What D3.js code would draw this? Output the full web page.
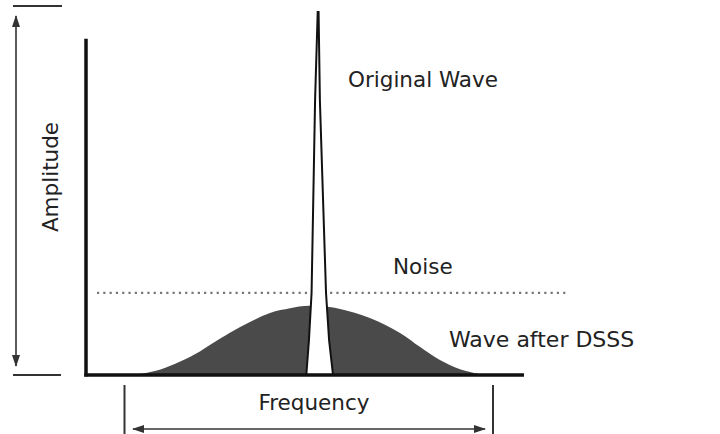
<!DOCTYPE html>
<html><head><meta charset="utf-8">
<script src="https://cdn.jsdelivr.net/npm/d3@7"></script>
<style>body{margin:0;background:#fff}svg{display:block}</style>
</head><body>
<script>
// Data (frequency / amplitude in arbitrary units 0..100)
const dsssFreq = [10, 13, 17, 21.5, 26, 29, 35.2, 42, 46.6, 50, 53.4, 58, 64.8, 71.7, 76.3, 80.8, 85.4, 91];
const dsssAmp  = [0, 0.4, 1.5, 3.7, 6.5, 8.8, 13.2, 17.1, 18.4, 19, 19, 18.2, 15.7, 11.6, 7.7, 4.1, 1.6, 0];
const waveFreq = [50.3, 50.9, 51.5, 52.3, 52.9, 53.1, 53.4, 54.8, 55.5, 56.4];
const waveAmp  = [0, 9.6, 22.6, 75.6, 100, 100, 75.6, 22.6, 9.6, 0];
const noiseLevel = 22.6;
const noiseRange = [2.5, 109.8];
const labels = ["Original Wave", "Noise", "Wave after DSSS"];
const axisTitles = ["Frequency", "Amplitude"];

const W = 720, H = 434;
const x = d3.scaleLinear().domain([0, 100]).range([86, 524]);
const y = d3.scaleLinear().domain([0, 100]).range([375, 12]);

const svg = d3.select("body").append("svg").attr("width", W).attr("height", H);
const font = "DejaVu Sans, Verdana, sans-serif";
const fs = 21.5;

// DSSS spread wave
const dsss = dsssFreq.map((f, i) => [f, dsssAmp[i]]);
svg.append("path")
  .attr("d", d3.area().x(d => x(d[0])).y0(y(0)).y1(d => y(d[1])).curve(d3.curveCatmullRom)(dsss))
  .attr("fill", "#4a4a4a");

// Noise dotted line
svg.append("line")
  .attr("x1", x(noiseRange[0])).attr("x2", x(noiseRange[1]))
  .attr("y1", y(noiseLevel)).attr("y2", y(noiseLevel))
  .attr("stroke", "#777").attr("stroke-width", 2.2)
  .attr("stroke-dasharray", "2.2 4.1");

// Original wave spike
const wave = waveFreq.map((f, i) => [f, waveAmp[i]]);
svg.append("path")
  .attr("d", d3.line().x(d => x(d[0])).y(d => y(d[1])).curve(d3.curveLinear)(wave))
  .attr("fill", "#fff").attr("stroke", "#111").attr("stroke-width", 2).attr("stroke-linejoin", "miter");

// Axes
svg.append("line").attr("x1", x(0)).attr("x2", x(0)).attr("y1", y(92.6)).attr("y2", y(0) + 1.5)
  .attr("stroke", "#111").attr("stroke-width", 3.5);
svg.append("line").attr("x1", x(0) - 1.7).attr("x2", x(100)).attr("y1", y(0)).attr("y2", y(0))
  .attr("stroke", "#111").attr("stroke-width", 3.5);

// Dimension arrows
const defs = svg.append("defs");
defs.append("marker").attr("id", "ah").attr("viewBox", "0 0 12 10").attr("refX", 11).attr("refY", 5)
  .attr("markerWidth", 12).attr("markerHeight", 10).attr("markerUnits", "userSpaceOnUse").attr("orient", "auto-start-reverse")
  .append("path").attr("d", "M0,1 L12,5 L0,9 Z").attr("fill", "#333");

const gray = "#333";
// Amplitude arrow + ticks
svg.append("line").attr("x1", 13).attr("x2", 62).attr("y1", 6).attr("y2", 6).attr("stroke", gray).attr("stroke-width", 2.2);
svg.append("line").attr("x1", 13).attr("x2", 61).attr("y1", y(0)).attr("y2", y(0)).attr("stroke", gray).attr("stroke-width", 2.2);
svg.append("line").attr("x1", 16).attr("x2", 16).attr("y1", 16).attr("y2", 366)
  .attr("stroke", gray).attr("stroke-width", 1.6)
  .attr("marker-start", "url(#ah)").attr("marker-end", "url(#ah)");
// Frequency arrow + ticks
svg.append("line").attr("x1", 124.5).attr("x2", 124.5).attr("y1", 385).attr("y2", 434).attr("stroke", gray).attr("stroke-width", 2);
svg.append("line").attr("x1", 493).attr("x2", 493).attr("y1", 385).attr("y2", 434).attr("stroke", gray).attr("stroke-width", 2);
svg.append("line").attr("x1", 133).attr("x2", 485).attr("y1", 429).attr("y2", 429)
  .attr("stroke", gray).attr("stroke-width", 1.6)
  .attr("marker-start", "url(#ah)").attr("marker-end", "url(#ah)");

// Labels
const txt = (s, px, py, anchor) => svg.append("text").attr("x", px).attr("y", py)
  .attr("font-family", font).attr("font-size", fs).attr("fill", "#222")
  .attr("text-anchor", anchor || "start").text(s);
txt(labels[0], 348, 87);
txt(labels[1], 393, 274);
txt(labels[2], 449, 347).attr("font-size", 22);
txt(axisTitles[0], 314, 410, "middle");
svg.append("text").attr("transform", "translate(58,177) rotate(-90)")
  .attr("font-family", font).attr("font-size", fs).attr("fill", "#222")
  .attr("text-anchor", "middle").text(axisTitles[1]);
</script>
</body></html>
